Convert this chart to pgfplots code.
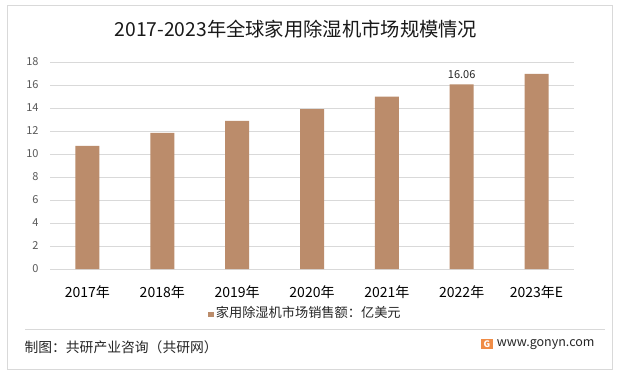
\documentclass[border=0pt]{standalone}
\usepackage{fontspec}
\setmainfont{Noto Sans CJK SC}
\usepackage{pgfplots}
\pgfplotsset{compat=1.18}
\definecolor{barc}{RGB}{187,140,107}
\definecolor{gridc}{RGB}{217,217,217}
\definecolor{framec}{RGB}{217,217,217}
\definecolor{tickc}{RGB}{89,89,89}
\definecolor{txtc}{RGB}{38,38,38}
\definecolor{logoc}{RGB}{240,140,70}
\begin{document}
\begin{tikzpicture}[x=1pt,y=1pt]
\fill[white] (0,0) rectangle (620,375);
\draw[framec, line width=1pt] (7,6) rectangle (612,369);
\node[font=\fontsize{19.3}{23}\selectfont, text=black!90] at (296,346) {2017-2023年全球家用除湿机市场规模情况};
\begin{axis}[
  at={(50pt,106pt)}, anchor=south west, scale only axis,
  width=524pt, height=207pt,
  xmin=-0.5, xmax=6.5, ymin=0, ymax=18,
  ytick={0,2,...,18}, xtick={0,...,6},
  xticklabels={2017年,2018年,2019年,2020年,2021年,2022年,2023年E},
  axis line style={draw=none}, major tick length=0pt,
  ymajorgrids, grid style={gridc, line width=0.75pt},
  yticklabel style={font=\fontsize{11}{12}\selectfont, text=tickc, xshift=-8pt},
  xticklabel style={font=\fontsize{14}{16}\selectfont, text=black, anchor=center, yshift=-23pt},
  /pgf/number format/assume math mode=true,
  legend style={at={(0.4876,-0.2126)}, anchor=center, draw=none, fill=none,
    font=\fontsize{13.2}{15}\selectfont, text=txtc, inner sep=0pt,
    /tikz/every even column/.style={column sep=2pt}},
  legend image code/.code={\fill[barc] (0pt,-4.25pt) rectangle (5.5pt,1.25pt);},
]
\addplot[ybar, bar width=24pt, fill=barc, draw=none,
  point meta=explicit symbolic, nodes near coords,
  nodes near coords style={font=\fontsize{11}{13}\selectfont, text=txtc, yshift=2.5pt}]
  coordinates {(0,10.70) [] (1,11.83) [] (2,12.87) [] (3,13.91) [] (4,14.98) [] (5,16.06) [16.06] (6,16.96) []};
\legend{家用除湿机市场销售额：亿美元}
\end{axis}
\draw[gridc, line width=0.75pt] (25,46) -- (605,46);
\node[anchor=west, font=\fontsize{13.8}{15}\selectfont, text=txtc] at (21,28) {制图：共研产业咨询（共研网）};
\fill[logoc] (481,26) rectangle (493,36);
\node[text=white, font=\bfseries\fontsize{9}{9}\selectfont, inner sep=0pt] at (487,31) {G};
\node[anchor=east, font=\fontsize{12.5}{15}\selectfont, text=txtc] at (598,30) {www.gonyn.com};
\end{tikzpicture}
\end{document}
